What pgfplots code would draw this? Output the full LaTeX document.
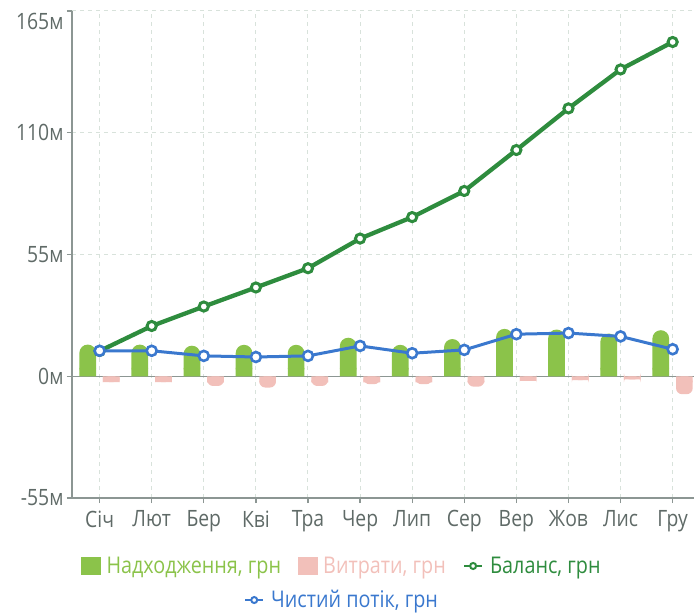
\documentclass[border=0pt]{standalone}
\usepackage{pgfplots}
\usepackage{pgfplotstable}
\pgfplotsset{compat=1.18}
\usepackage{fontspec}
\setmainfont{Open Sans}[FakeStretch=0.86]
\definecolor{cInc}{RGB}{139,195,74}
\definecolor{cExp}{RGB}{242,192,186}
\definecolor{cBal}{RGB}{46,140,62}
\definecolor{cNet}{RGB}{58,120,206}
\definecolor{cAxis}{RGB}{140,150,147}
\definecolor{cGrid}{RGB}{216,226,219}
\definecolor{cText}{RGB}{95,106,103}

\pgfplotstableread{
x inc exp bal net
0 14.3 -2.6 11.4 11.5
1 14.3 -2.6 22.7 11.5
2 13.8 -4.4 31.5 9.2
3 14.2 -5.1 40.1 8.7
4 14.2 -4.4 48.8 9.2
5 17.4 -3.6 62.2 13.7
6 14.2 -3.6 71.9 10.4
7 16.8 -4.7 83.7 11.9
8 21.4 -2.1 102.2 19.0
9 21.1 -1.7 121.0 19.5
10 19.3 -1.4 138.6 18.0
11 20.8 -8.1 151.0 12.2
}\data

\begin{document}
\begin{tikzpicture}
\useasboundingbox (-72bp,-116bp) rectangle (622bp,498bp);
\begin{axis}[
  scale only axis, width=622bp, height=487bp,
  xmin=-0.53, xmax=11.41, ymin=-55, ymax=165,
  xtick={0,...,11},
  xticklabels={Січ,Лют,Бер,Кві,Тра,Чер,Лип,Сер,Вер,Жов,Лис,Гру},
  ytick={-55,0,55,110,165},
  yticklabels={-55м,0м,55м,110м,\smash{\raisebox{-18.5bp}{165м}}},
  axis lines=left,
  axis line style={-, draw=cAxis, line width=1.3bp},
  tick style={draw=cAxis, line width=1.3bp},
  tick align=outside, major tick length=5bp,
  grid=major,
  major grid style={dash pattern=on 4bp off 4bp, draw=cGrid, line width=1bp},
  extra y ticks={0}, extra y tick labels={},
  extra y tick style={grid=major, major grid style={solid, draw=cAxis, line width=1.2bp}},
  tick label style={font=\fontsize{22.5bp}{26bp}\selectfont, text=cText},
  xticklabel style={yshift=-4bp},
  legend columns=3,
  legend style={at={(0.434,-0.1396)}, anchor=center, draw=none, fill=none,
    font=\fontsize{23bp}{27bp}\selectfont,
    /tikz/every even column/.append style={column sep=15bp}},
]
% income bars (rounded) + square base
\addplot[ybar, bar width=0.32, bar shift=-0.228, fill=cInc, draw=none,
  rounded corners=8.3bp, forget plot] table[x=x, y=inc] {\data};
\addplot[ybar, bar width=0.32, bar shift=-0.228, fill=cInc, draw=none,
  y filter/.expression={min(y,3.8)}, forget plot] table[x=x, y=inc] {\data};
% expense bars
\addplot[ybar, bar width=0.32, bar shift=0.225, fill=cExp, draw=none,
  rounded corners=6bp, forget plot] table[x=x, y=exp] {\data};
\addplot[ybar, bar width=0.32, bar shift=0.225, fill=cExp, draw=none,
  y filter/.expression={max(y,-2.8)}, forget plot] table[x=x, y=exp] {\data};
% balance
\addplot[cBal, line width=4.3bp, mark=*, mark size=4.6bp,
  mark options={fill=white, draw=cBal, line width=3bp}, forget plot]
  table[x=x, y=bal] {\data};
% net flow
\addplot[cNet, line width=3bp, mark=*, mark size=5bp,
  mark options={fill=white, draw=cNet, line width=2.6bp}, forget plot]
  table[x=x, y=net] {\data};

\addlegendimage{legend image code/.code={\fill[cInc] (0bp,-8.5bp) rectangle (19bp,8.5bp);
  \path[draw=none,fill=none] (0bp,0bp) rectangle (23bp,0.1bp);}}
\addlegendentry{\textcolor{cInc}{Надходження, грн}}
\addlegendimage{legend image code/.code={\fill[cExp] (0bp,-8.5bp) rectangle (19bp,8.5bp);
  \path[draw=none,fill=none] (0bp,0bp) rectangle (23bp,0.1bp);}}
\addlegendentry{\textcolor{cExp}{Витрати, грн}}
\addlegendimage{legend image code/.code={\draw[cBal, line width=2.6bp] (0bp,0bp) -- (18bp,0bp);
  \draw[cBal, line width=2bp, fill=white] (9bp,0bp) circle (3bp);
  \path[draw=none,fill=none] (0bp,0bp) rectangle (24bp,0.1bp);}}
\addlegendentry{\textcolor{cBal}{Баланс, грн}}
\end{axis}
\begin{axis}[
  scale only axis, width=622bp, height=487bp,
  xmin=-0.53, xmax=11.41, ymin=-55, ymax=165,
  hide axis,
  legend style={at={(0.434,-0.2095)}, anchor=center, draw=none, fill=none,
    font=\fontsize{23bp}{27bp}\selectfont},
]
\addlegendimage{legend image code/.code={\draw[cNet, line width=2.6bp] (0bp,0bp) -- (18bp,0bp);
  \draw[cNet, line width=2bp, fill=white] (9bp,0bp) circle (3bp);
  \path[draw=none,fill=none] (0bp,0bp) rectangle (24bp,0.1bp);}}
\addlegendentry{\textcolor{cNet}{Чистий потік, грн}}
\end{axis}
\end{tikzpicture}
\end{document}
